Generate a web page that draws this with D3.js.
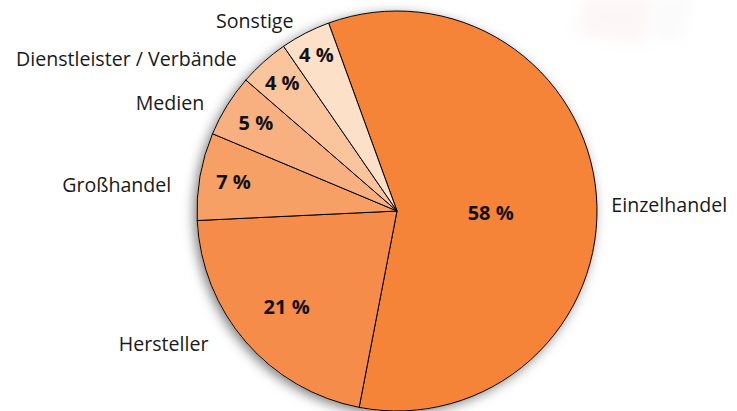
<!DOCTYPE html>
<html>
<head>
<meta charset="utf-8">
<script src="https://cdn.jsdelivr.net/npm/d3@7"></script>
<style>
  html, body { margin: 0; padding: 0; background: #ffffff; }
  svg { display: block; }
</style>
</head>
<body>
<svg id="chart" width="737" height="411"></svg>
<script>
// ---- data ----
const categories = ["Einzelhandel", "Hersteller", "Großhandel", "Medien", "Dienstleister / Verbände", "Sonstige"];
const values = [58, 21, 7, 5, 4, 4];
const valueLabels = ["58 %", "21 %", "7 %", "5 %", "4 %", "4 %"];
const colors = ["#F58438", "#F68C4A", "#F7A066", "#F8B080", "#FAC49C", "#FDE0C8"];

// ---- layout (not data) ----
const W = 737, H = 411;
const cx = 397, cy = 211, R = 200;
const startDeg = -20;
const pctRadius = [0.47, 0.73, 0.83, 0.83, 0.86, 0.88];
const pctNudge = [[0, 9], [0, 0], [0, 0], [0, 0], [0, 0], [0, 0]];
const catRadius = 215;
const catNudge = [[0, 11], [-26, -8], [-14, 11], [-10, 5], [-17, 8], [-5, 1]];

const svg = d3.select("#chart");
const defs = svg.append("defs");

const shadow = defs.append("filter").attr("id", "shadow")
  .attr("x", "-20%").attr("y", "-20%").attr("width", "140%").attr("height", "140%");
shadow.append("feDropShadow").attr("dx", -3).attr("dy", 3)
  .attr("stdDeviation", 6).attr("flood-color", "#000").attr("flood-opacity", 0.5);

const blur = defs.append("filter").attr("id", "blur")
  .attr("x", "-50%").attr("y", "-50%").attr("width", "200%").attr("height", "200%");
blur.append("feGaussianBlur").attr("stdDeviation", 7);

// faint background logo smudge (top right)
svg.append("path")
  .attr("d", "M585,-5 L655,-5 L645,45 L575,35 Z")
  .attr("fill", "#f4b8bf").attr("opacity", 0.12).attr("filter", "url(#blur)");
svg.append("path")
  .attr("d", "M660,-5 L690,-5 L682,40 L655,40 Z")
  .attr("fill", "#e0e0e6").attr("opacity", 0.15).attr("filter", "url(#blur)");

const pie = d3.pie().value(d => d).sort(null)
  .startAngle(startDeg * Math.PI / 180)
  .endAngle((startDeg + 360) * Math.PI / 180);
const arcs = pie(values);

const arc = d3.arc().innerRadius(0).outerRadius(R);

const g = svg.append("g").attr("transform", `translate(${cx},${cy})`);

// shadow silhouette
g.append("circle").attr("r", R).attr("fill", "#ffffff").attr("filter", "url(#shadow)");

g.selectAll("path.slice").data(arcs).enter().append("path")
  .attr("class", "slice")
  .attr("d", arc)
  .attr("fill", (d, i) => colors[i])
  .attr("stroke", "#000")
  .attr("stroke-width", 1)
  .attr("stroke-linejoin", "round");

// percentage labels
g.selectAll("text.pct").data(arcs).enter().append("text")
  .attr("class", "pct")
  .attr("transform", (d, i) => {
    const a = (d.startAngle + d.endAngle) / 2;
    const r = pctRadius[i] * R;
    const x = Math.sin(a) * r + pctNudge[i][0];
    const y = -Math.cos(a) * r + pctNudge[i][1];
    return `translate(${x},${y})`;
  })
  .attr("text-anchor", "middle")
  .attr("dy", "0.35em")
  .attr("font-family", "'Open Sans', 'Noto Sans', sans-serif")
  .attr("font-weight", "bold")
  .attr("font-size", "20px")
  .attr("fill", "#111")
  .text((d, i) => valueLabels[i]);

// category labels
g.selectAll("text.cat").data(arcs).enter().append("text")
  .attr("class", "cat")
  .attr("transform", (d, i) => {
    const a = (d.startAngle + d.endAngle) / 2;
    const x = Math.sin(a) * catRadius + catNudge[i][0];
    const y = -Math.cos(a) * catRadius + catNudge[i][1];
    return `translate(${x},${y})`;
  })
  .attr("text-anchor", d => Math.sin((d.startAngle + d.endAngle) / 2) >= 0 ? "start" : "end")
  .attr("dy", "0.35em")
  .attr("font-family", "'Open Sans', 'Noto Sans', sans-serif")
  .attr("font-size", "19.6px")
  .attr("fill", "#1a1a1a")
  .text((d, i) => categories[i]);
</script>
</body>
</html>
